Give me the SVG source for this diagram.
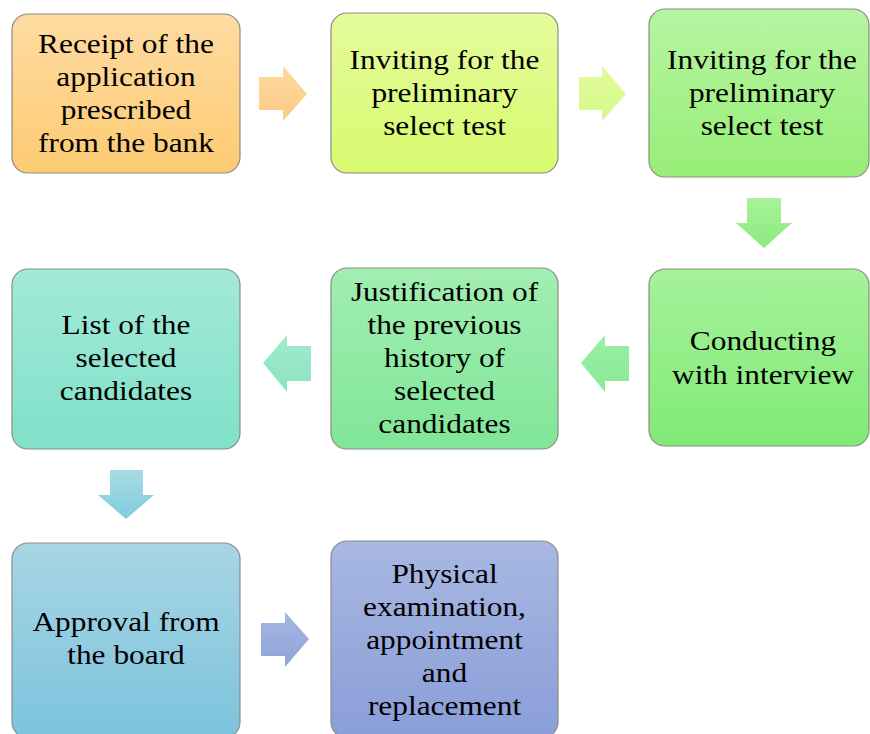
<svg xmlns="http://www.w3.org/2000/svg" width="870" height="734" viewBox="0 0 870 734">
<style>
.box{stroke:#8c8c84;stroke-width:1.2}
.t{font-family:"Liberation Serif","Times New Roman",serif;font-size:28px;fill:#000;text-anchor:middle}
</style>
<defs>
<linearGradient id="g1" x1="0" y1="0" x2="0" y2="1"><stop offset="0" stop-color="#FFDBA2"/><stop offset="1" stop-color="#FCCB72"/></linearGradient>
<linearGradient id="g2" x1="0" y1="0" x2="0" y2="1"><stop offset="0" stop-color="#E4FB9C"/><stop offset="1" stop-color="#D8FA6E"/></linearGradient>
<linearGradient id="g3" x1="0" y1="0" x2="0" y2="1"><stop offset="0" stop-color="#B6F5A2"/><stop offset="1" stop-color="#97EE78"/></linearGradient>
<linearGradient id="g6" x1="0" y1="0" x2="0" y2="1"><stop offset="0" stop-color="#A6F29A"/><stop offset="1" stop-color="#80EA76"/></linearGradient>
<linearGradient id="g5" x1="0" y1="0" x2="0" y2="1"><stop offset="0" stop-color="#A3EEB2"/><stop offset="1" stop-color="#80E698"/></linearGradient>
<linearGradient id="g4" x1="0" y1="0" x2="0" y2="1"><stop offset="0" stop-color="#A3EAD8"/><stop offset="1" stop-color="#80E0C8"/></linearGradient>
<linearGradient id="g7" x1="0" y1="0" x2="0" y2="1"><stop offset="0" stop-color="#A8D5E4"/><stop offset="1" stop-color="#7CC3DC"/></linearGradient>
<linearGradient id="g8" x1="0" y1="0" x2="0" y2="1"><stop offset="0" stop-color="#A8B8E2"/><stop offset="1" stop-color="#8A9ED8"/></linearGradient>
<linearGradient id="a1" x1="0" y1="0" x2="0" y2="1"><stop offset="0" stop-color="#FDD8A4"/><stop offset="1" stop-color="#FCCB80"/></linearGradient>
<linearGradient id="a2" x1="0" y1="0" x2="0" y2="1"><stop offset="0" stop-color="#E2FB9C"/><stop offset="1" stop-color="#D6F98A"/></linearGradient>
<linearGradient id="a3" x1="0" y1="0" x2="0" y2="1"><stop offset="0" stop-color="#A8F29A"/><stop offset="1" stop-color="#8CEA7E"/></linearGradient>
<linearGradient id="a4" x1="0" y1="0" x2="0" y2="1"><stop offset="0" stop-color="#9AEFA8"/><stop offset="1" stop-color="#88EA92"/></linearGradient>
<linearGradient id="a5" x1="0" y1="0" x2="0" y2="1"><stop offset="0" stop-color="#A0EBCC"/><stop offset="1" stop-color="#8AE4BE"/></linearGradient>
<linearGradient id="a6" x1="0" y1="0" x2="0" y2="1"><stop offset="0" stop-color="#A6DCE6"/><stop offset="1" stop-color="#80CCDC"/></linearGradient>
<linearGradient id="a7" x1="0" y1="0" x2="0" y2="1"><stop offset="0" stop-color="#A4B6E2"/><stop offset="1" stop-color="#8FA4D8"/></linearGradient>
</defs>

<g id="connectors">
<polygon fill="url(#a1)" points="259,77 283,77 283,66 307,94 283,121 283,110 259,110"/>
<polygon fill="url(#a2)" points="579,77 602,77 602,66 626,94 602,121 602,110 579,110"/>
<polygon fill="url(#a3)" points="747,198 781,198 781,223 792,223 764,248 736,223 747,223"/>
<polygon fill="url(#a4)" points="629,346 605,346 605,335 581,363 605,392 605,381 629,381"/>
<polygon fill="url(#a5)" points="311,346 287,346 287,335 263,363 287,392 287,381 311,381"/>
<polygon fill="url(#a6)" points="110,470 143,470 143,495 154,495 126,519 98,495 110,495"/>
<polygon fill="url(#a7)" points="261,623 285,623 285,612 309,639 285,667 285,656 261,656"/>
</g>

<g id="n1">
<rect class="box" x="12" y="14" width="228" height="159" rx="16" fill="url(#g1)"/>
<g transform="translate(126 0) scale(1.12 1)"><text class="t"><tspan x="0" y="53">Receipt of the</tspan><tspan x="0" y="86">application</tspan><tspan x="0" y="119">prescribed</tspan><tspan x="0" y="152">from the bank</tspan></text></g>
</g>
<g id="n2">
<rect class="box" x="331" y="13" width="227" height="160" rx="16" fill="url(#g2)"/>
<g transform="translate(444.5 0) scale(1.12 1)"><text class="t"><tspan x="0" y="69">Inviting for the</tspan><tspan x="0" y="102">preliminary</tspan><tspan x="0" y="135">select test</tspan></text></g>
</g>
<g id="n3">
<rect class="box" x="649" y="9" width="220" height="168" rx="16" fill="url(#g3)"/>
<g transform="translate(762 0) scale(1.12 1)"><text class="t"><tspan x="0" y="69">Inviting for the</tspan><tspan x="0" y="102">preliminary</tspan><tspan x="0" y="135">select test</tspan></text></g>
</g>
<g id="n6">
<rect class="box" x="649" y="269" width="220" height="177" rx="16" fill="url(#g6)"/>
<g transform="translate(763 0) scale(1.12 1)"><text class="t"><tspan x="0" y="350">Conducting</tspan><tspan x="0" y="384">with interview</tspan></text></g>
</g>
<g id="n5">
<rect class="box" x="331" y="268" width="227" height="181" rx="16" fill="url(#g5)"/>
<g transform="translate(444.5 0) scale(1.12 1)"><text class="t"><tspan x="0" y="301">Justification of</tspan><tspan x="0" y="334">the previous</tspan><tspan x="0" y="367">history of</tspan><tspan x="0" y="400">selected</tspan><tspan x="0" y="433">candidates</tspan></text></g>
</g>
<g id="n4">
<rect class="box" x="12" y="269" width="228" height="180" rx="16" fill="url(#g4)"/>
<g transform="translate(126 0) scale(1.12 1)"><text class="t"><tspan x="0" y="334">List of the</tspan><tspan x="0" y="367">selected</tspan><tspan x="0" y="400">candidates</tspan></text></g>
</g>
<g id="n7">
<rect class="box" x="12" y="543" width="228" height="195" rx="16" fill="url(#g7)"/>
<g transform="translate(126 0) scale(1.12 1)"><text class="t"><tspan x="0" y="631">Approval from</tspan><tspan x="0" y="664">the board</tspan></text></g>
</g>
<g id="n8">
<rect class="box" x="331" y="541" width="227" height="197" rx="16" fill="url(#g8)"/>
<g transform="translate(444.5 0) scale(1.12 1)"><text class="t"><tspan x="0" y="583">Physical</tspan><tspan x="0" y="616">examination,</tspan><tspan x="0" y="649">appointment</tspan><tspan x="0" y="682">and</tspan><tspan x="0" y="715">replacement</tspan></text></g>
</g>
</svg>
